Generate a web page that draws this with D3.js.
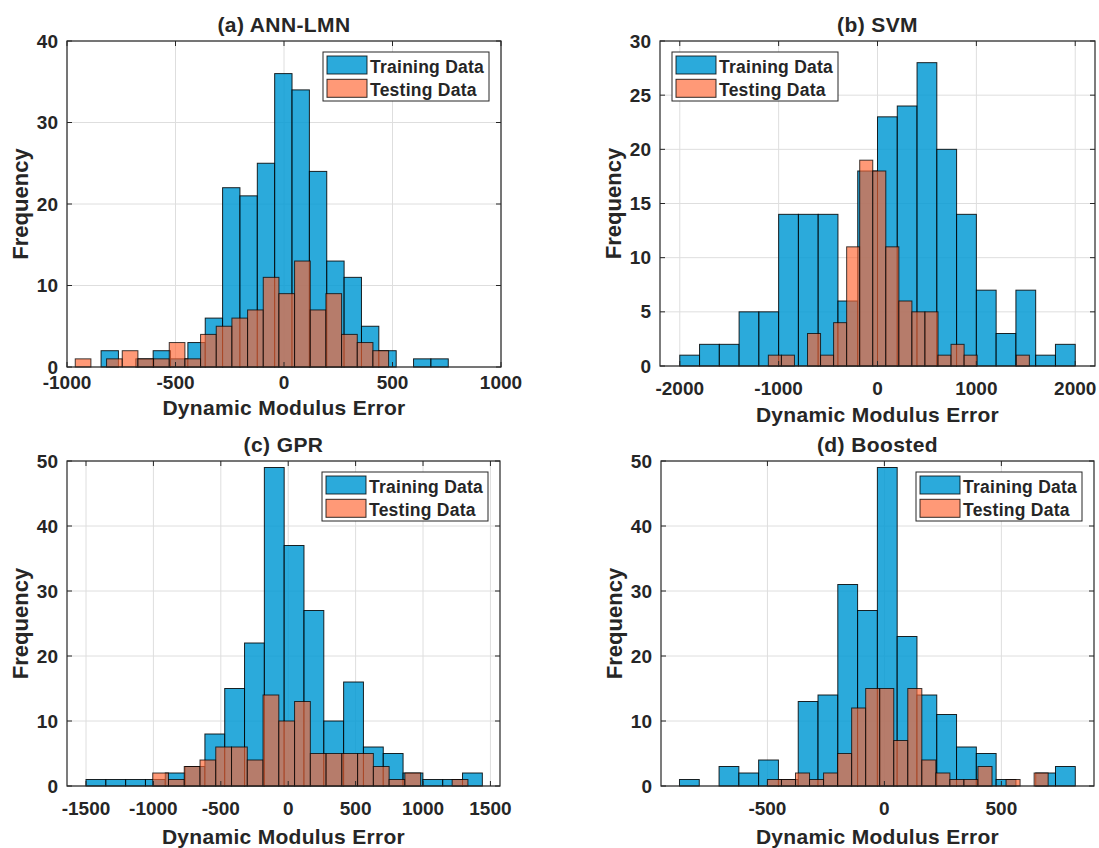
<!DOCTYPE html>
<html>
<head>
<meta charset="utf-8">
<script src="https://cdn.jsdelivr.net/npm/d3@7"></script>
<style>
  body { margin: 0; background: #fff; }
  text { font-family: "Liberation Sans", Arial, Helvetica, sans-serif; font-weight: bold; fill: #262626; }
</style>
</head>
<body>
<svg id="chart" width="1099" height="848"></svg>
<script>
// Histogram counts (20 equal-width bins per series) and the outer bin edges of each series.
const annTrainCounts = [2, 0, 1, 2, 1, 3, 6, 22, 21, 25, 36, 34, 24, 13, 11, 5, 2, 0, 1, 1];
const annTrainRange  = [-843, 757];
const annTestCounts  = [1, 0, 1, 2, 1, 1, 3, 1, 4, 5, 6, 7, 11, 9, 13, 7, 9, 4, 3, 2];
const annTestRange   = [-962, 482];

const svmTrainCounts = [1, 2, 2, 5, 5, 14, 14, 14, 6, 18, 23, 24, 28, 20, 14, 7, 3, 7, 1, 2];
const svmTrainRange  = [-2000, 2000];
const svmTestCounts  = [1, 1, 0, 3, 1, 4, 11, 19, 18, 11, 6, 5, 5, 1, 2, 1, 0, 0, 0, 1];
const svmTestRange   = [-1104, 1536];

const gprTrainCounts = [1, 1, 1, 1, 2, 3, 8, 15, 22, 49, 37, 27, 10, 16, 6, 5, 2, 1, 1, 2];
const gprTrainRange  = [-1500, 1440];
const gprTestCounts  = [2, 1, 3, 4, 6, 6, 4, 14, 10, 13, 5, 5, 5, 5, 3, 1, 2, 0, 0, 1];
const gprTestRange   = [-1005, 1333];

const boostTrainCounts = [1, 0, 3, 2, 4, 1, 13, 14, 31, 27, 49, 23, 14, 11, 6, 5, 1, 0, 2, 3];
const boostTrainRange  = [-876, 816];
const boostTestCounts  = [1, 1, 2, 1, 2, 5, 12, 15, 15, 7, 15, 4, 2, 1, 1, 3, 0, 1, 0, 2];
const boostTestRange   = [-500, 700];

// Axis limits and tick values
const annXLimits = [-1000, 1000];
const annYLimits = [0, 40];
const annXTicks  = [-1000, -500, 0, 500, 1000];
const annYTicks  = [0, 10, 20, 30, 40];

const svmXLimits = [-2200, 2200];
const svmYLimits = [0, 30];
const svmXTicks  = [-2000, -1000, 0, 1000, 2000];
const svmYTicks  = [0, 5, 10, 15, 20, 25, 30];

const gprXLimits = [-1641, 1571];
const gprYLimits = [0, 50];
const gprXTicks  = [-1500, -1000, -500, 0, 500, 1000, 1500];
const gprYTicks  = [0, 10, 20, 30, 40, 50];

const boostXLimits = [-955, 896];
const boostYLimits = [0, 50];
const boostXTicks  = [-500, 0, 500];
const boostYTicks  = [0, 10, 20, 30, 40, 50];

const panelTitles  = ["(a) ANN-LMN", "(b) SVM", "(c) GPR", "(d) Boosted"];
const seriesNames  = ["Training Data", "Testing Data"];
const xAxisLabel   = "Dynamic Modulus Error";
const yAxisLabel   = "Frequency";

// Layout of the four axes
const panels = [
  { title: panelTitles[0], train: annTrainCounts, trainRange: annTrainRange, test: annTestCounts, testRange: annTestRange,
    xLim: annXLimits, yLim: annYLimits, xTicks: annXTicks, yTicks: annYTicks,
    box: { l: 67, r: 501, t: 41, b: 367 }, legend: "right", tickOff: 22, labelOff: 48 },
  { title: panelTitles[1], train: svmTrainCounts, trainRange: svmTrainRange, test: svmTestCounts, testRange: svmTestRange,
    xLim: svmXLimits, yLim: svmYLimits, xTicks: svmXTicks, yTicks: svmYTicks,
    box: { l: 660, r: 1095, t: 41, b: 366 }, legend: "left", tickOff: 29, labelOff: 56 },
  { title: panelTitles[2], train: gprTrainCounts, trainRange: gprTrainRange, test: gprTestCounts, testRange: gprTestRange,
    xLim: gprXLimits, yLim: gprYLimits, xTicks: gprXTicks, yTicks: gprYTicks,
    box: { l: 67, r: 500, t: 461, b: 786 }, legend: "right", tickOff: 29, labelOff: 58 },
  { title: panelTitles[3], train: boostTrainCounts, trainRange: boostTrainRange, test: boostTestCounts, testRange: boostTestRange,
    xLim: boostXLimits, yLim: boostYLimits, xTicks: boostXTicks, yTicks: boostYTicks,
    box: { l: 661, r: 1094, t: 461, b: 786 }, legend: "right", tickOff: 29, labelOff: 58 }
];

const trainFill = "#0099d4", trainOpacity = 0.83;
const testFill  = "#ff6431", testOpacity  = 0.66;
const axisColor = "#262626";
const gridColor = "#dedede";

const svg = d3.select("#chart");

// Turn counts + outer edges into bin rectangles
function toBins(counts, range) {
  const w = (range[1] - range[0]) / counts.length;
  return counts.map((c, i) => ({ x0: range[0] + i * w, x1: range[0] + (i + 1) * w, count: c }))
               .filter(d => d.count > 0);
}

panels.forEach(p => {
  const { l, r, t, b } = p.box;
  const x = d3.scaleLinear().domain(p.xLim).range([l, r]);
  const y = d3.scaleLinear().domain(p.yLim).range([b, t]);
  const g = svg.append("g");

  // grid
  g.append("g").selectAll("line").data(p.xTicks).join("line")
    .attr("x1", d => x(d)).attr("x2", d => x(d)).attr("y1", t).attr("y2", b)
    .attr("stroke", gridColor).attr("stroke-width", 1);
  g.append("g").selectAll("line").data(p.yTicks).join("line")
    .attr("x1", l).attr("x2", r).attr("y1", d => y(d)).attr("y2", d => y(d))
    .attr("stroke", gridColor).attr("stroke-width", 1);

  // training histogram
  g.append("g").selectAll("rect").data(toBins(p.train, p.trainRange)).join("rect")
    .attr("x", d => x(d.x0)).attr("width", d => x(d.x1) - x(d.x0))
    .attr("y", d => y(d.count)).attr("height", d => y(0) - y(d.count))
    .attr("fill", trainFill).attr("fill-opacity", trainOpacity)
    .attr("stroke", "#000").attr("stroke-opacity", 0.85).attr("stroke-width", 1);

  // testing histogram, drawn over the training bars
  g.append("g").selectAll("rect").data(toBins(p.test, p.testRange)).join("rect")
    .attr("x", d => x(d.x0)).attr("width", d => x(d.x1) - x(d.x0))
    .attr("y", d => y(d.count)).attr("height", d => y(0) - y(d.count))
    .attr("fill", testFill).attr("fill-opacity", testOpacity)
    .attr("stroke", "#000").attr("stroke-opacity", 0.75).attr("stroke-width", 1);

  // axes box with inward ticks on all sides
  g.append("rect").attr("x", l).attr("y", t).attr("width", r - l).attr("height", b - t)
    .attr("fill", "none").attr("stroke", axisColor).attr("stroke-width", 1.2);
  const tk = 5;
  g.append("g").selectAll("path").data(p.xTicks).join("path")
    .attr("d", d => `M${x(d)},${b}v${-tk}M${x(d)},${t}v${tk}`)
    .attr("stroke", axisColor).attr("stroke-width", 1);
  g.append("g").selectAll("path").data(p.yTicks).join("path")
    .attr("d", d => `M${l},${y(d)}h${tk}M${r},${y(d)}h${-tk}`)
    .attr("stroke", axisColor).attr("stroke-width", 1);

  // tick labels
  g.append("g").selectAll("text").data(p.xTicks).join("text")
    .attr("x", d => x(d)).attr("y", b + p.tickOff)
    .attr("text-anchor", "middle").attr("font-size", 19)
    .text(d => d);
  g.append("g").selectAll("text").data(p.yTicks).join("text")
    .attr("x", l - 9).attr("y", d => y(d) + 6.5)
    .attr("text-anchor", "end").attr("font-size", 19)
    .text(d => d);

  // title and axis labels
  g.append("text").attr("x", (l + r) / 2).attr("y", t - 9)
    .attr("text-anchor", "middle").attr("font-size", 21).attr("letter-spacing", 0.4).text(p.title);
  g.append("text").attr("x", (l + r) / 2).attr("y", b + p.labelOff)
    .attr("text-anchor", "middle").attr("font-size", 21).attr("letter-spacing", 0.3).text(xAxisLabel);
  g.append("text")
    .attr("transform", `translate(${l - 39},${(t + b) / 2}) rotate(-90)`)
    .attr("text-anchor", "middle").attr("font-size", 22).text(yAxisLabel);

  // legend
  const lw = 166, lh = 49;
  const lx = p.legend === "right" ? r - 12 - lw : l + 12;
  const ly = t + 11;
  const lg = g.append("g").attr("transform", `translate(${lx},${ly})`);
  lg.append("rect").attr("width", lw).attr("height", lh)
    .attr("fill", "#fff").attr("stroke", axisColor).attr("stroke-width", 1);
  const entries = [
    { name: seriesNames[0], fill: trainFill, op: trainOpacity },
    { name: seriesNames[1], fill: testFill, op: testOpacity }
  ];
  entries.forEach((e, i) => {
    lg.append("rect").attr("x", 4).attr("y", 4 + i * 23.3).attr("width", 40).attr("height", 18)
      .attr("fill", e.fill).attr("fill-opacity", e.op)
      .attr("stroke", "#000").attr("stroke-opacity", 0.8).attr("stroke-width", 1);
    lg.append("text").attr("x", 47).attr("y", 21 + i * 23.2)
      .attr("font-size", 17.5).attr("letter-spacing", 0.25).text(e.name);
  });
});
</script>
</body>
</html>
